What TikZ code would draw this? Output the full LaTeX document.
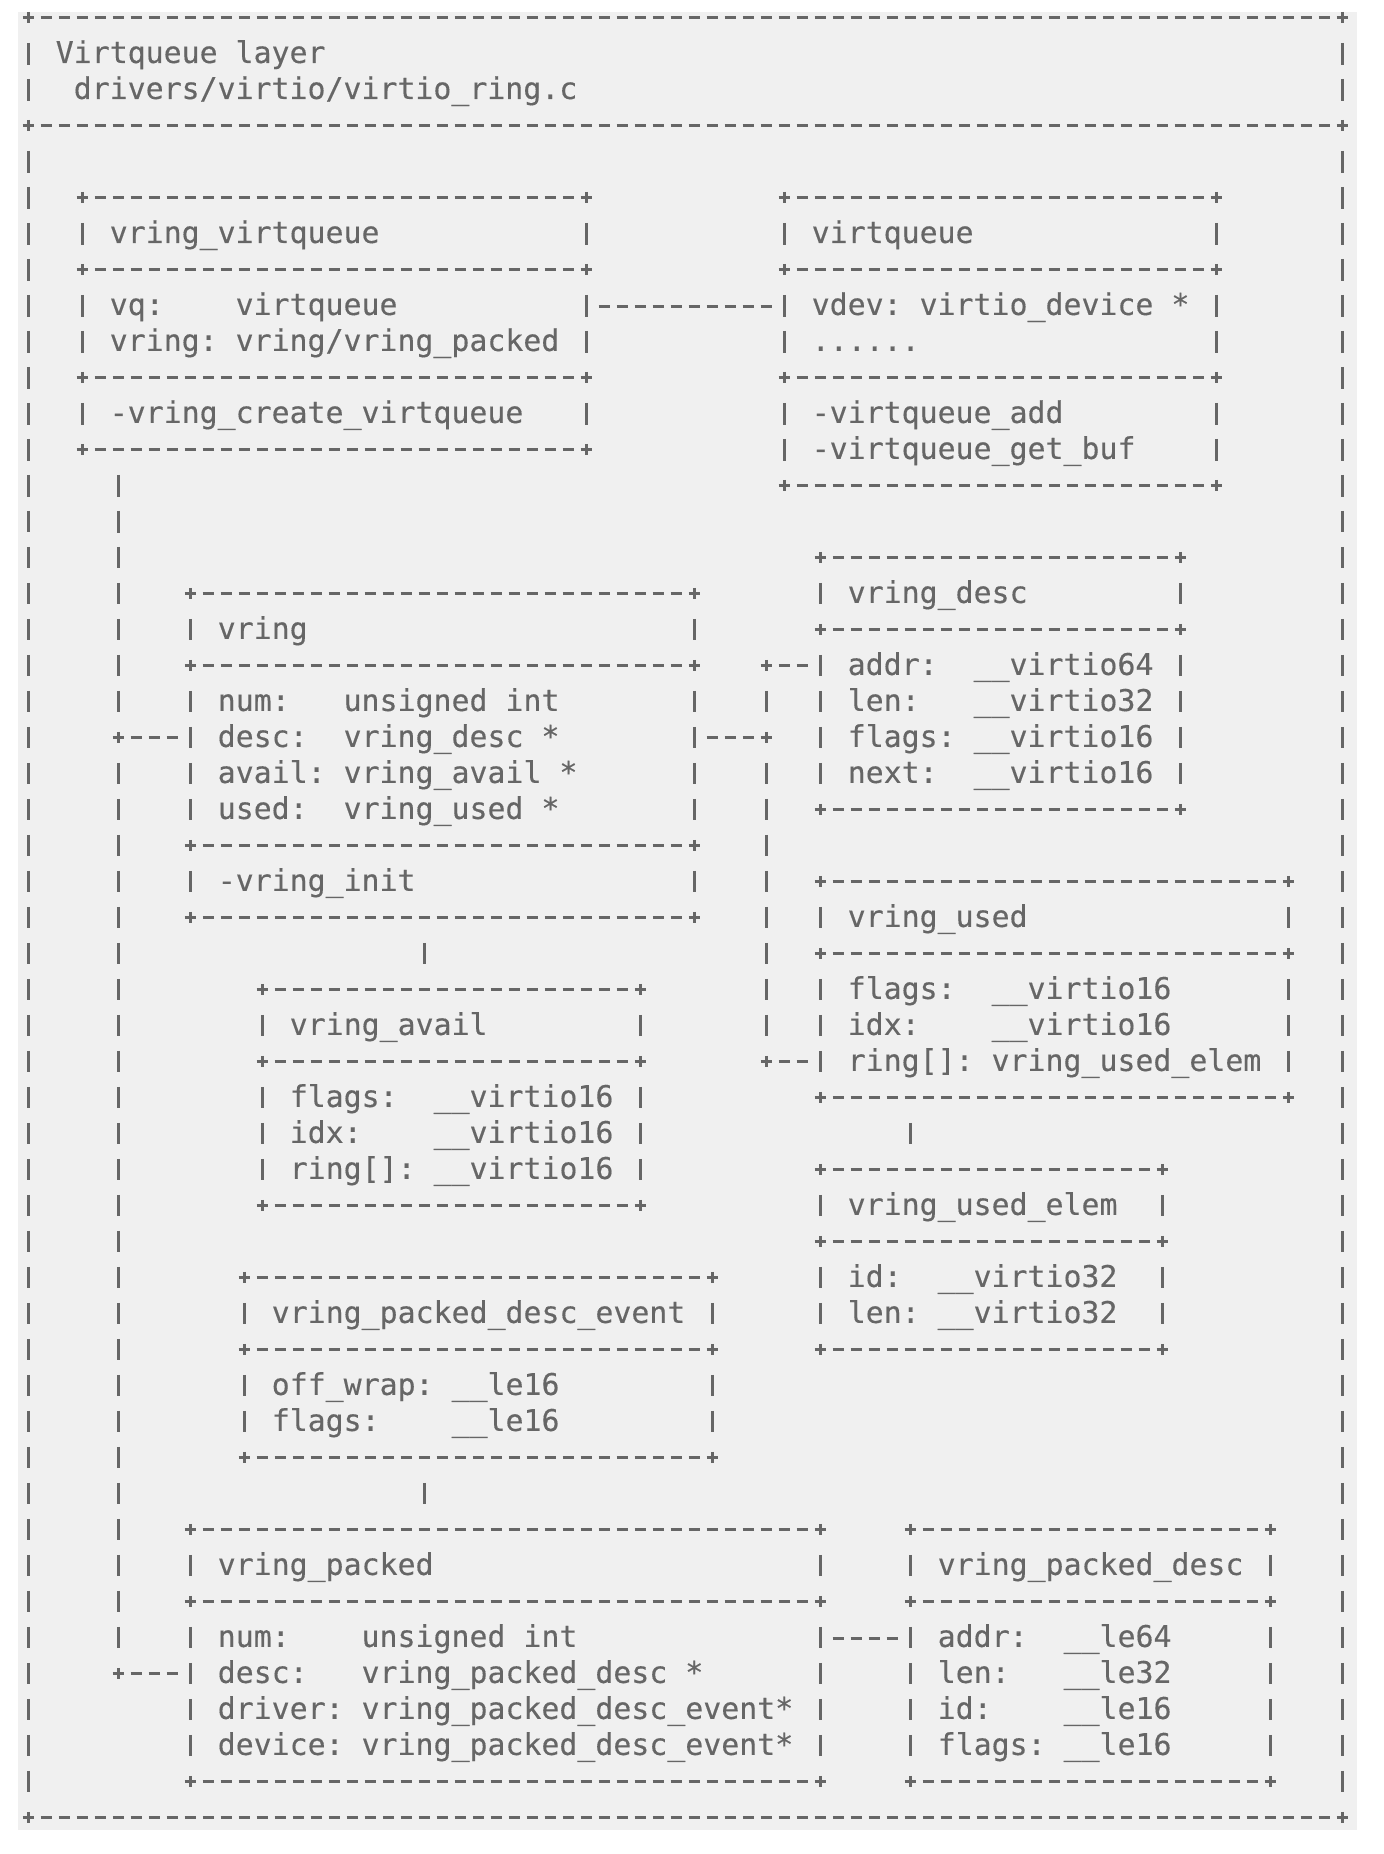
\documentclass[tikz,border=0pt]{standalone}
\usepackage{fontspec}
\usepackage{tikz}
\usetikzlibrary{positioning, calc}
\newfontfamily\boxfont[FakeBold=0.3]{DejaVu Sans Mono}
\definecolor{ink}{RGB}{102,102,102}
\definecolor{paper}{RGB}{240,240,240}

\tikzset{
  plusmark/.style={draw=ink, line width=0.06cm},
  dashrow/.style={draw=ink, line width=0.06cm, dash pattern=on 0.234cm off 0.126cm},
  dashcol/.style={draw=ink, line width=0.06cm, dash pattern=on 0.432cm off 0.288cm},
  hlink/.style={dashrow, shorten <=0.243cm, shorten >=0.243cm},
  vlink/.style={dashcol, shorten <=0.504cm, shorten >=0.504cm},
  boxarea/.style={rectangle, draw=none, inner sep=0pt, outer sep=0pt},
  field/.style={anchor=mid west, inner sep=0pt, text=ink},
  pics/plus/.style={code={\draw[plusmark] (-0.32,0) -- (0.32,0) (0,-0.16) -- (0,0.16);}}
}

% ascii box: name, left col, top row, right col, bottom row, rows of the +---+ rules
\newcommand\asciibox[6]{%
  \node[boxarea, minimum width={(#4-#2)*0.36cm}, minimum height={(#5-#3)*0.72cm}] (#1) at ({(#2+#4)/2},{(#3+#5)/2}) {};
  \foreach \r [remember=\r as \prev (initially -1000)] in {#6} {
    \draw[dashrow] (#2+0.675,\r) -- (#4-0.675,\r);
    \pic at (#2,\r) {plus};
    \pic at (#4,\r) {plus};
    \ifnum\prev>-1000
      \draw[dashcol] (#2,\prev+0.7) -- (#2,\r-0.7);
      \draw[dashcol] (#4,\prev+0.7) -- (#4,\r-0.7);
    \fi
  }%
}

\begin{document}
\boxfont\fontsize{17pt}{20pt}\selectfont
\begin{tikzpicture}[x=0.36cm, y=-0.72cm]
\useasboundingbox (-1.578,-0.492) rectangle (75.31,51.01);
\fill[white] (-1.578,-0.492) rectangle (75.31,51.01);
\fill[paper] (-0.58,-0.16) rectangle (73.8,50.34);

% layer frame
\asciibox{layer}{0}{0}{73}{50}{0,3,50}
\node[field] (layer-title) at (1.5,1.03) {Virtqueue layer};
\node[field] (layer-file) at (2.5,2.03) {drivers/virtio/virtio\_ring.c};

% vring_virtqueue
\asciibox{vvq}{3}{5}{31}{12}{5,7,10,12}
\node[field] (vvq-title) at (4.5,6.03) {vring\_virtqueue};
\node[field] (vvq-vq) at (4.5,8.03) {vq:~~~~virtqueue};
\node[field] (vvq-vring) at (4.5,9.03) {vring:~vring/vring\_packed};
\node[field] (vvq-create) at (4.5,11.03) {-vring\_create\_virtqueue};

% virtqueue
\asciibox{vq}{42}{5}{66}{13}{5,7,10,13}
\node[field] (vq-title) at (43.5,6.03) {virtqueue};
\node[field] (vq-vdev) at (43.5,8.03) {vdev:~virtio\_device~*};
\node[field] (vq-more) at (43.5,9.03) {......};
\node[field] (vq-add) at (43.5,11.03) {-virtqueue\_add};
\node[field] (vq-getbuf) at (43.5,12.03) {-virtqueue\_get\_buf};

% vring
\asciibox{vring}{9}{16}{37}{25}{16,18,23,25}
\node[field] (vring-title) at (10.5,17.03) {vring};
\node[field] (vring-num) at (10.5,19.03) {num:~~~unsigned~int};
\node[field] (vring-desc) at (10.5,20.03) {desc:~~vring\_desc~*};
\node[field] (vring-avail) at (10.5,21.03) {avail:~vring\_avail~*};
\node[field] (vring-used) at (10.5,22.03) {used:~~vring\_used~*};
\node[field] (vring-init) at (10.5,24.03) {-vring\_init};

% vring_desc
\asciibox{vdesc}{44}{15}{64}{22}{15,17,22}
\node[field] (vdesc-title) at (45.5,16.03) {vring\_desc};
\node[field] (vdesc-addr) at (45.5,18.03) {addr:~~\_\_virtio64};
\node[field] (vdesc-len) at (45.5,19.03) {len:~~~\_\_virtio32};
\node[field] (vdesc-flags) at (45.5,20.03) {flags:~\_\_virtio16};
\node[field] (vdesc-next) at (45.5,21.03) {next:~~\_\_virtio16};

% vring_used
\asciibox{vused}{44}{24}{70}{30}{24,26,30}
\node[field] (vused-title) at (45.5,25.03) {vring\_used};
\node[field] (vused-flags) at (45.5,27.03) {flags:~~\_\_virtio16};
\node[field] (vused-idx) at (45.5,28.03) {idx:~~~~\_\_virtio16};
\node[field] (vused-ring) at (45.5,29.03) {ring[]:~vring\_used\_elem};

% vring_used_elem
\asciibox{velem}{44}{32}{63}{37}{32,34,37}
\node[field] (velem-title) at (45.5,33.03) {vring\_used\_elem};
\node[field] (velem-id) at (45.5,35.03) {id:~~\_\_virtio32};
\node[field] (velem-len) at (45.5,36.03) {len:~\_\_virtio32};

% vring_avail
\asciibox{vavail}{13}{27}{34}{33}{27,29,33}
\node[field] (vavail-title) at (14.5,28.03) {vring\_avail};
\node[field] (vavail-flags) at (14.5,30.03) {flags:~~\_\_virtio16};
\node[field] (vavail-idx) at (14.5,31.03) {idx:~~~~\_\_virtio16};
\node[field] (vavail-ring) at (14.5,32.03) {ring[]:~\_\_virtio16};

% vring_packed_desc_event
\asciibox{vevent}{12}{35}{38}{40}{35,37,40}
\node[field] (vevent-title) at (13.5,36.03) {vring\_packed\_desc\_event};
\node[field] (vevent-wrap) at (13.5,38.03) {off\_wrap:~\_\_le16};
\node[field] (vevent-flags) at (13.5,39.03) {flags:~~~~\_\_le16};

% vring_packed
\asciibox{vpacked}{9}{42}{44}{49}{42,44,49}
\node[field] (vpacked-title) at (10.5,43.03) {vring\_packed};
\node[field] (vpacked-num) at (10.5,45.03) {num:~~~~unsigned~int};
\node[field] (vpacked-desc) at (10.5,46.03) {desc:~~~vring\_packed\_desc~*};
\node[field] (vpacked-driver) at (10.5,47.03) {driver:~vring\_packed\_desc\_event*};
\node[field] (vpacked-device) at (10.5,48.03) {device:~vring\_packed\_desc\_event*};

% vring_packed_desc
\asciibox{vpdesc}{49}{42}{69}{49}{42,44,49}
\node[field] (vpdesc-title) at (50.5,43.03) {vring\_packed\_desc};
\node[field] (vpdesc-addr) at (50.5,45.03) {addr:~~\_\_le64};
\node[field] (vpdesc-len) at (50.5,46.03) {len:~~~\_\_le32};
\node[field] (vpdesc-id) at (50.5,47.03) {id:~~~~\_\_le16};
\node[field] (vpdesc-flags) at (50.5,48.03) {flags:~\_\_le16};

% links
\coordinate (jvring) at (5,20);
\coordinate (jpacked) at (5,46);
\coordinate (jdesc) at (41,18);
\coordinate (jring) at (41,20);
\coordinate (jused) at (41,29);

\draw[hlink] (vvq.east |- vvq-vq.mid) -- (vq.west |- vvq-vq.mid);
\draw[vlink] ($(vvq.south west)+(2,0)$) -- (jvring);
\draw[vlink] (jvring) -- (jpacked);
\draw[hlink] (jvring) -- (vring.west |- jvring);
\draw[hlink] (jpacked) -- (vpacked.west |- jpacked);
\draw[hlink] (vring.east |- jring) -- (jring);
\draw[vlink] (jdesc) -- (jring);
\draw[vlink] (jring) -- (jused);
\draw[hlink] (jdesc) -- (vdesc.west |- jdesc);
\draw[hlink] (jused) -- (vused.west |- jused);
\draw[vlink] ($(vring.south west)+(13,0)$) -- ($(vavail.north west)+(9,0)$);
\draw[vlink] ($(vused.south west)+(5,0)$) -- ($(velem.north west)+(5,0)$);
\draw[vlink] ($(vevent.south west)+(10,0)$) -- ($(vpacked.north west)+(13,0)$);
\draw[hlink] (vpacked.east |- vpacked-num.mid) -- (vpdesc.west |- vpacked-num.mid);
\foreach \j in {jvring, jpacked, jdesc, jring, jused}
  \pic at (\j) {plus};
\end{tikzpicture}
\end{document}
